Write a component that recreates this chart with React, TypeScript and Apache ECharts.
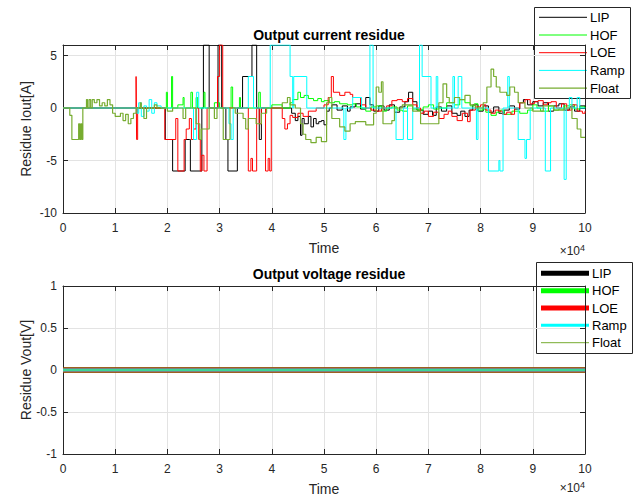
import React, { useEffect, useRef } from "react";
import * as echarts from "echarts";

const FONT = "'Liberation Sans', Arial, Helvetica, sans-serif";

const seriesNames = ["LIP", "HOF", "LOE", "Ramp", "Float"];
const seriesColors = ["#000000", "#00ff00", "#ff0000", "#00ffff", "#77ac30"];

// Time axis (x 10^4)
const xMin = 0;
const xMax = 10;
const xInterval = 1;

// Top panel: Output current residue
const currentYMin = -10;
const currentYMax = 6;
const currentYInterval = 5;

const currentLIP: [number, number][] = [
  [0, 0], [1.96, -3], [2.1, -6], [2.34, -3], [2.42, -3], [2.44, -6], [2.66, 0], [2.69, 6], [2.8, 0],
  [2.97, 6], [3.04, 0], [3.12, -3], [3.16, -6], [3.34, 0], [3.44, 3], [3.62, 6], [3.71, 0], [3.76, -3],
  [3.8, 0], [4.38, -0.5], [4.45, -1.2], [4.5, -0.8], [4.55, -2.6], [4.58, -1], [4.62, -1.5], [4.7, -0.8],
  [4.75, -1.8], [4.8, -1], [4.85, -1.5], [4.9, -1.3], [4.95, -1.2], [5.0, -1.6], [5.05, -0.3], [5.1, 0],
  [5.15, 0.3], [5.25, -0.2], [5.35, 0.2], [5.45, -0.3], [5.5, 0.1], [5.6, 0.4], [5.7, -0.1], [5.8, 1],
  [5.88, 0.3], [5.95, -0.3], [6.05, 0.2], [6.15, -0.2], [6.25, 0.3], [6.35, -0.4], [6.45, 0.1], [6.55, 0.6],
  [6.62, 1.5], [6.7, 0.6], [6.78, -0.2], [6.9, -0.6], [7.0, -0.3], [7.08, -0.7], [7.15, 0.1], [7.25, -0.3],
  [7.35, 0.2], [7.45, -0.5], [7.55, -0.7], [7.62, -0.3], [7.7, -0.8], [7.78, -0.2], [7.85, 0.3], [7.95, -0.3],
  [8.05, 0.2], [8.15, -0.4], [8.25, 0.1], [8.35, -0.5], [8.45, -0.2], [8.55, 0.2], [8.65, -0.1], [8.75, 0.5],
  [8.82, 0.8], [8.9, 0.3], [9.0, 0.6], [9.1, 0.2], [9.2, 0.5], [9.3, -0.3], [9.4, 0.2], [9.5, 0.4],
  [9.6, -0.2], [9.7, 0.1], [9.8, -0.3], [9.9, 0.2], [10, 0],
];

const currentHOF: [number, number][] = [
  [0, 0], [1.98, 1.5], [2.0, 0], [2.08, 3], [2.1, 0], [2.2, 0.3], [2.3, 1], [2.32, 0], [2.45, 1.5],
  [2.48, 0], [2.55, 1], [2.58, 0], [2.7, 1.5], [2.72, 0], [2.9, 0.5], [3.0, 0], [3.22, 2], [3.25, 0],
  [3.38, 1], [3.4, 0], [3.75, 1.5], [3.78, 0], [4.0, 0.3], [4.2, 0], [4.35, 0.5], [4.4, 0.8], [4.5, 1.5],
  [4.55, 1], [4.62, 1.2], [4.7, 0.9], [4.8, 0.7], [4.88, 0.9], [4.95, 0.6], [5.0, 0.7], [5.1, 0.5],
  [5.2, 0.6], [5.3, 0.4], [5.45, 0.3], [5.55, 0.4], [5.62, 0.1], [5.7, 0], [5.8, -0.3], [5.9, 0.1],
  [6.0, 0.2], [6.1, -0.3], [6.2, 0], [6.3, 0.1], [6.4, -0.2], [6.5, -0.3], [6.6, 0.2], [6.7, -0.1],
  [6.8, -0.2], [6.9, 0.1], [7.0, 0.3], [7.1, -0.1], [7.2, 0], [7.35, 0.5], [7.5, 0.3], [7.6, 0.8],
  [7.7, 0.5], [7.8, 0.2], [7.88, 0.4], [7.95, -0.2], [8.05, -0.1], [8.1, -0.4], [8.2, -0.7], [8.3, -0.4],
  [8.38, -0.2], [8.45, -0.6], [8.6, -0.3], [8.75, -0.5], [8.9, -0.2], [9.0, 0.3], [9.08, 0], [9.15, -0.3],
  [9.3, 0.2], [9.4, -0.2], [9.5, -0.1], [9.6, 0.2], [9.7, 0.3], [9.8, -0.1], [9.9, 0.1], [10, 0],
];

const currentLOE: [number, number][] = [
  [0, 0], [1.4, 3], [1.41, -3], [1.43, 0], [1.95, -3], [2.16, -1], [2.2, -6], [2.32, -3], [2.36, -2],
  [2.42, -1], [2.46, -3], [2.5, -2], [2.55, 0], [2.6, -3], [2.63, -6], [2.66, -4.5], [2.7, -6], [2.76, 0],
  [2.96, 3], [3.0, 6], [3.06, 0], [3.5, 0], [3.55, -6], [3.6, -4.8], [3.63, -6], [3.71, 0], [3.76, -1.5],
  [3.8, 0], [3.88, -6], [3.93, -4.8], [3.96, -6], [3.99, 0], [4.2, -1], [4.25, -2], [4.3, -1.5],
  [4.35, -0.7], [4.4, -0.9], [4.5, -0.5], [4.6, -0.8], [4.7, -0.3], [4.85, 0], [5.0, 0.3], [5.08, 1],
  [5.14, 3], [5.18, 1.5], [5.3, 1.2], [5.4, 1.5], [5.5, 1.3], [5.55, 1], [5.7, 0.3], [5.8, 0], [5.9, -0.2],
  [6.0, -0.3], [6.1, 0], [6.2, 0.2], [6.3, 0.7], [6.4, 0.8], [6.5, 0.6], [6.6, 0.9], [6.7, 0.3], [6.78, 0],
  [6.85, -0.5], [6.92, -0.3], [7.0, -0.8], [7.1, -0.4], [7.2, -1], [7.3, -0.6], [7.38, -0.3], [7.45, -0.8],
  [7.55, -1.2], [7.65, -0.5], [7.75, -1.3], [7.8, -0.2], [7.9, 0.1], [8.0, 0.3], [8.1, -0.2], [8.2, -0.5],
  [8.28, -0.2], [8.35, -0.3], [8.42, -0.6], [8.5, -0.4], [8.58, -0.6], [8.65, 0], [8.75, 0.5], [8.85, 0.8],
  [8.95, 0.4], [9.03, 0.6], [9.1, 0.7], [9.2, 0.3], [9.28, 0.5], [9.35, 0.6], [9.45, 0], [9.55, 0.4],
  [9.65, -0.2], [9.75, 0.3], [9.85, -0.3], [9.95, -0.5], [10, -0.3],
];

const currentRamp: [number, number][] = [
  [0, 0], [1.42, -0.5], [1.45, 0.5], [1.5, -0.8], [1.55, 0.2], [1.6, -0.3], [1.65, 0.8], [1.7, -0.5],
  [1.75, 0.5], [1.8, 0.2], [1.88, 0], [2.5, -3], [2.56, 1.5], [2.6, 0], [3.18, -1.5], [3.22, -3],
  [3.26, 0], [3.55, 3], [3.65, 0], [3.97, 6], [4.35, 3], [4.4, 0], [4.42, 3], [4.67, 0], [5.38, -3],
  [5.42, 0], [5.55, 1], [5.72, 0], [5.88, 6], [5.94, 0], [6.38, -3], [6.52, 0], [6.6, -3], [6.7, 0],
  [6.83, 6], [6.88, 3], [7.05, 0], [7.15, 3], [7.18, 0], [7.47, 3], [7.5, 0], [7.57, 3], [7.64, 0],
  [7.92, -3], [7.95, 0], [8.15, -6], [8.35, -5], [8.37, -6], [8.43, 0], [8.52, 3], [8.55, 0], [8.72, -3],
  [8.85, -4.8], [8.88, -3], [8.95, 0], [9.24, -6], [9.34, 0], [9.6, -6.8], [9.64, 0], [9.7, 1], [9.75, 0],
  [9.85, 1], [9.9, 0], [10, 0],
];

const currentFloat: [number, number][] = [
  [0, 0], [0.13, -0.7], [0.17, -3], [0.28, -3], [0.3, -1.5], [0.32, -3], [0.34, -1.5], [0.36, -3],
  [0.38, 0], [0.45, 0.8], [0.47, 0], [0.5, 0.8], [0.53, 0], [0.56, 0.8], [0.6, 0.5], [0.65, 0.8],
  [0.7, 0.2], [0.75, 0.5], [0.8, 0.2], [0.85, 0.8], [0.9, 0.3], [0.95, -0.5], [1.0, -0.8], [1.1, -0.5],
  [1.15, -1.2], [1.2, -0.6], [1.25, -1.5], [1.3, -1], [1.35, -0.5], [1.4, 0], [1.48, 0.5], [1.5, 0],
  [1.55, -1], [1.6, 0], [1.75, 0.3], [1.8, 0], [2.0, -0.3], [2.1, 0], [2.3, -1], [2.35, 0], [2.55, -1.5],
  [2.62, -3], [2.65, -2], [2.8, 0], [2.9, -1], [2.95, 0], [3.07, -3], [3.2, 0], [3.3, -0.5], [3.45, -1],
  [3.5, -2], [3.55, -1], [3.7, -1.5], [3.8, -0.5], [3.9, 0], [4.2, 0.5], [4.3, 1], [4.35, 0.3], [4.45, 0],
  [4.55, -1.5], [4.6, -2.5], [4.65, -3], [4.75, -3.3], [4.85, -2.8], [4.95, -3.2], [5.05, 0.5], [5.1, 1],
  [5.15, -1], [5.3, -1.8], [5.4, -2.2], [5.5, -1.5], [5.6, -1.3], [5.8, -1.6], [5.95, -0.5], [6.0, 2],
  [6.05, 1.5], [6.1, 2.5], [6.13, -1.5], [6.3, -1.2], [6.35, 0], [6.5, 0.3], [6.7, -0.3], [6.85, -1.5],
  [7.1, -1.5], [7.2, 0.5], [7.28, 2.3], [7.35, 1], [7.4, 0.5], [7.5, 1], [7.6, 0.8], [7.7, 1.2], [7.8, 0.3],
  [7.9, 0], [8.05, 0.5], [8.12, 2], [8.2, 3.7], [8.25, 3], [8.3, 2], [8.37, 1.5], [8.5, 1.2], [8.56, 2],
  [8.65, 1.5], [8.72, 0.5], [8.85, 0], [9.0, -0.3], [9.2, 0.2], [9.4, -0.2], [9.6, 0], [9.75, -1],
  [9.85, -2], [9.92, -2.8], [10, -2.8],
];

// Bottom panel: Output voltage residue
const voltageYMin = -1;
const voltageYMax = 1;
const voltageYInterval = 0.5;

const voltageLIP: [number, number][] = [[0, 0], [10, 0]];
const voltageHOF: [number, number][] = [[0, 0], [10, 0]];
const voltageLOE: [number, number][] = [[0, 0], [10, 0]];
const voltageRamp: [number, number][] = [[0, 0], [10, 0]];
const voltageFloat: [number, number][] = [[0, 0], [10, 0]];

const currentWidths = [1, 1, 1, 1, 1.2];
const voltageWidths = [5, 5, 5, 3, 1];

const AXIS = "#262626";
const GRID = "#e3e3e3";

function mainX(gridIndex: number) {
  return {
    type: "value", gridIndex, min: xMin, max: xMax, interval: xInterval, position: "bottom",
    axisLine: { show: true, onZero: false, lineStyle: { color: AXIS, width: 1 } },
    axisTick: { show: true, inside: true, length: 5, lineStyle: { color: AXIS } },
    axisLabel: { show: true, color: AXIS, fontSize: 12, fontFamily: FONT, margin: 9 },
    splitLine: { show: true, lineStyle: { color: GRID, width: 1 } },
    name: "Time", nameLocation: "middle", nameGap: 28,
    nameTextStyle: { color: AXIS, fontSize: 14, fontFamily: FONT },
  };
}
function sideX(gridIndex: number) {
  return {
    type: "value", gridIndex, min: xMin, max: xMax, interval: xInterval, position: "top",
    axisLine: { show: true, onZero: false, lineStyle: { color: AXIS, width: 1 } },
    axisTick: { show: true, inside: true, length: 5, lineStyle: { color: AXIS } },
    axisLabel: { show: false }, splitLine: { show: false },
  };
}
function mainY(gridIndex: number, min: number, max: number, interval: number, name: string) {
  return {
    type: "value", gridIndex, min, max, interval, position: "left",
    axisLine: { show: true, onZero: false, lineStyle: { color: AXIS, width: 1 } },
    axisTick: { show: true, inside: true, length: 5, lineStyle: { color: AXIS } },
    axisLabel: { show: true, color: AXIS, fontSize: 12, fontFamily: FONT, margin: 6, showMaxLabel: max % interval === 0 },
    splitLine: { show: true, lineStyle: { color: GRID, width: 1 } },
    name, nameLocation: "middle", nameGap: 30, nameRotate: 90, nameMoveOverlap: false,
    nameTextStyle: { color: AXIS, fontSize: 14, fontFamily: FONT },
  };
}
function sideY(gridIndex: number, min: number, max: number, interval: number) {
  return {
    type: "value", gridIndex, min, max, interval, position: "right",
    axisLine: { show: true, onZero: false, lineStyle: { color: AXIS, width: 1 } },
    axisTick: { show: true, inside: true, length: 5, lineStyle: { color: AXIS } },
    axisLabel: { show: false }, splitLine: { show: false },
  };
}

// legend drawn as a MATLAB-style box
function legendBox(left: number, top: number, width: number, height: number, firstY: number, step: number,
  lineX: number, widths: number[]) {
  const children: any[] = [
    { type: "rect", shape: { x: left + 0.5, y: top + 0.5, width, height },
      style: { fill: "#ffffff", stroke: AXIS, lineWidth: 1 } },
  ];
  seriesNames.forEach((n, i) => {
    const y = firstY + step * i;
    children.push({ type: "line", shape: { x1: lineX, y1: y, x2: lineX + 48, y2: y },
      style: { stroke: seriesColors[i], lineWidth: widths[i] } });
    children.push({ type: "text", x: lineX + 51, y,
      style: { text: n, fill: "#000", font: `13px ${FONT}`, align: "left", verticalAlign: "middle" } });
  });
  return { type: "group", z: 100, children };
}

function exponentLabel(top: number) {
  return {
    type: "text", right: 57, top, z: 10,
    style: { text: "×10{s|4}", fill: AXIS, font: `12px ${FONT}`,
      rich: { s: { fontSize: 9, verticalAlign: "top", padding: [0, 0, 6, 0], fill: AXIS } } },
  };
}

export default function App() {
  const ref = useRef<HTMLDivElement>(null);
  useEffect(() => {
    if (!ref.current) return;
    const chart = echarts.init(ref.current, undefined, { renderer: "svg" });
    const currentData = [currentLIP, currentHOF, currentLOE, currentRamp, currentFloat];
    const voltageData = [voltageLIP, voltageHOF, voltageLOE, voltageRamp, voltageFloat];
    const series: any[] = [];
    seriesNames.forEach((n, i) => {
      series.push({
        type: "line", name: n, xAxisIndex: 0, yAxisIndex: 0, data: currentData[i], step: "end",
        symbol: "none", showSymbol: false, color: seriesColors[i],
        lineStyle: { color: seriesColors[i], width: currentWidths[i] }, z: 2 + i,
      });
    });
    seriesNames.forEach((n, i) => {
      series.push({
        type: "line", name: n, xAxisIndex: 1, yAxisIndex: 1, data: voltageData[i],
        symbol: "none", showSymbol: false, color: seriesColors[i],
        lineStyle: { color: seriesColors[i], width: voltageWidths[i] }, z: 2 + i,
      });
    });
    chart.setOption({
      animation: false,
      backgroundColor: "#ffffff",
      textStyle: { fontFamily: FONT },
      title: [
        { text: "Output current residue", left: 324, top: 23, textAlign: "center",
          textStyle: { fontSize: 14, fontWeight: "bold", color: "#000", fontFamily: FONT } },
        { text: "Output voltage residue", left: 324, top: 262, textAlign: "center",
          textStyle: { fontSize: 14, fontWeight: "bold", color: "#000", fontFamily: FONT } },
      ],
      grid: [
        { left: 63, top: 45, width: 522, height: 168, show: false },
        { left: 63, top: 286, width: 522, height: 196, show: false },
      ],
      xAxis: [mainX(0), mainX(1), sideX(0), sideX(1)],
      yAxis: [
        mainY(0, currentYMin, currentYMax, currentYInterval, "Residue Iout[A]"),
        mainY(1, voltageYMin, voltageYMax, voltageYInterval, "Residue Vout[V]"),
        sideY(0, currentYMin, currentYMax, currentYInterval),
        sideY(1, voltageYMin, voltageYMax, voltageYInterval),
      ],
      graphic: [
        exponentLabel(243),
        exponentLabel(480),
        legendBox(534, 7, 96, 91, 17.3, 17.7, 539, currentWidths),
        legendBox(536, 262, 96, 91, 273.3, 17.35, 541, voltageWidths),
      ],
      series,
    });
    return () => chart.dispose();
  }, []);
  return <div ref={ref} style={{ width: 642, height: 497, position: "absolute", left: 0, top: 0 }} />;
}
